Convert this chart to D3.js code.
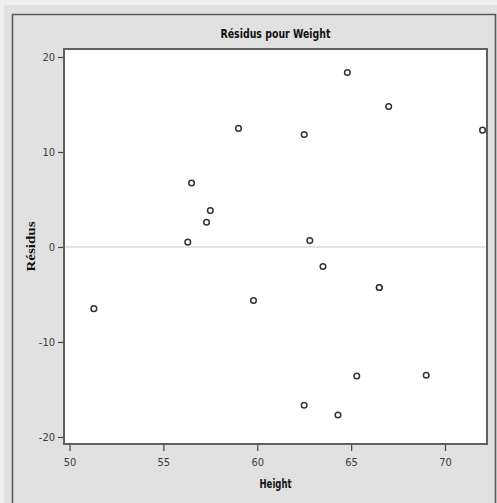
<!DOCTYPE html>
<html>
<head>
<meta charset="utf-8">
<script src="https://cdn.jsdelivr.net/npm/d3@7"></script>
<style>
  html, body { margin: 0; padding: 0; background: #efefef; }
  svg { display: block; }
  .tick-label { font-family: "Liberation Sans Narrow", "DejaVu Sans Condensed", "Arial Narrow", sans-serif; font-size: 11px; fill: #3a3a3a; }
</style>
</head>
<body>
<svg id="chart" width="497" height="503"></svg>
<script>
// Residuals of Weight regressed on Height, one point per student
const heights   = [69, 56.5, 65.3, 62.8, 63.5, 57.3, 59.8, 62.5, 62.5, 59, 51.3, 64.3, 56.3, 66.5, 72, 64.8, 67, 57.5, 66.5];
const residuals = [-13.51, 6.73, -13.58, 0.67, -2.06, 2.61, -5.64, 11.84, -16.66, 12.48, -6.49, -17.68, 0.51, -4.26, 12.30, 18.37, 14.79, 3.83, -4.26];
const xTicks = [50, 55, 60, 65, 70];
const yTicks = [-20, -10, 0, 10, 20];

const svg = d3.select("#chart");

// Panel background and outer frame
svg.append("rect").attr("x", 4).attr("y", 5).attr("width", 493).attr("height", 498).attr("fill", "#e1e1e1");
svg.append("path")
  .attr("d", "M12.5,503 V14.5 H495.5 V503")
  .attr("fill", "none").attr("stroke", "#5a5a5a").attr("stroke-width", 1.6);

const plot = { left: 64, top: 49, right: 487, bottom: 444 };

const x = d3.scaleLinear().domain([49.707, 72.237]).range([plot.left, plot.right]);
const y = d3.scaleLinear().domain([20.84, -20.74]).range([plot.top, plot.bottom]);

// Plot area
svg.append("rect")
  .attr("x", plot.left).attr("y", plot.top)
  .attr("width", plot.right - plot.left).attr("height", plot.bottom - plot.top)
  .attr("fill", "#ffffff");

// Zero reference line
svg.append("line")
  .attr("x1", plot.left).attr("x2", plot.right)
  .attr("y1", y(0)).attr("y2", y(0))
  .attr("stroke", "#e4e4e4").attr("stroke-width", 2);

// Axes (plain hyphen for negative values)
const fmt = d => String(d);
const xAxis = svg.append("g")
  .attr("transform", `translate(0,${plot.bottom})`)
  .call(d3.axisBottom(x).tickValues(xTicks).tickSize(7).tickPadding(7).tickFormat(fmt));
const yAxis = svg.append("g")
  .attr("transform", `translate(${plot.left},0)`)
  .call(d3.axisLeft(y).tickValues(yTicks).tickSize(6).tickPadding(3).tickFormat(fmt));

[xAxis, yAxis].forEach(g => {
  g.select(".domain").remove();
  g.selectAll(".tick line").attr("stroke", "#444").attr("stroke-width", 1.2);
  g.selectAll(".tick text").attr("class", "tick-label").attr("font-size", null).attr("font-family", null).attr("fill", null);
});

// Plot frame
svg.append("rect")
  .attr("x", plot.left).attr("y", plot.top)
  .attr("width", plot.right - plot.left).attr("height", plot.bottom - plot.top)
  .attr("fill", "none").attr("stroke", "#606060").attr("stroke-width", 2);

// Points
svg.append("g").selectAll("circle")
  .data(heights.map((h, i) => ({ h, r: residuals[i] })))
  .join("circle")
  .attr("cx", d => x(d.h))
  .attr("cy", d => y(d.r))
  .attr("r", 2.8)
  .attr("fill", "#ffffff")
  .attr("stroke", "#333")
  .attr("stroke-width", 1.5);

// Title and axis labels
svg.append("text")
  .attr("x", (plot.left + plot.right) / 2).attr("y", 38)
  .attr("text-anchor", "middle")
  .attr("font-family", "'Liberation Sans Narrow', 'DejaVu Sans Condensed', 'Liberation Sans', sans-serif")
  .attr("font-weight", "bold").attr("font-size", 13).attr("fill", "#111")
  .attr("textLength", 110).attr("lengthAdjust", "spacingAndGlyphs")
  .text("Résidus pour Weight");

svg.append("text")
  .attr("x", (plot.left + plot.right) / 2).attr("y", 488)
  .attr("text-anchor", "middle")
  .attr("font-family", "'Liberation Sans Narrow', 'DejaVu Sans Condensed', 'Liberation Sans', sans-serif")
  .attr("font-weight", "bold").attr("font-size", 12).attr("fill", "#111")
  .attr("textLength", 32).attr("lengthAdjust", "spacingAndGlyphs")
  .text("Height");

svg.append("text")
  .attr("transform", `translate(35,${(plot.top + plot.bottom) / 2}) rotate(-90)`)
  .attr("text-anchor", "middle")
  .attr("font-family", "'Liberation Serif', serif")
  .attr("font-weight", "bold").attr("font-size", 12).attr("fill", "#111")
  .attr("textLength", 50).attr("lengthAdjust", "spacingAndGlyphs")
  .text("Résidus");
</script>
</body>
</html>
